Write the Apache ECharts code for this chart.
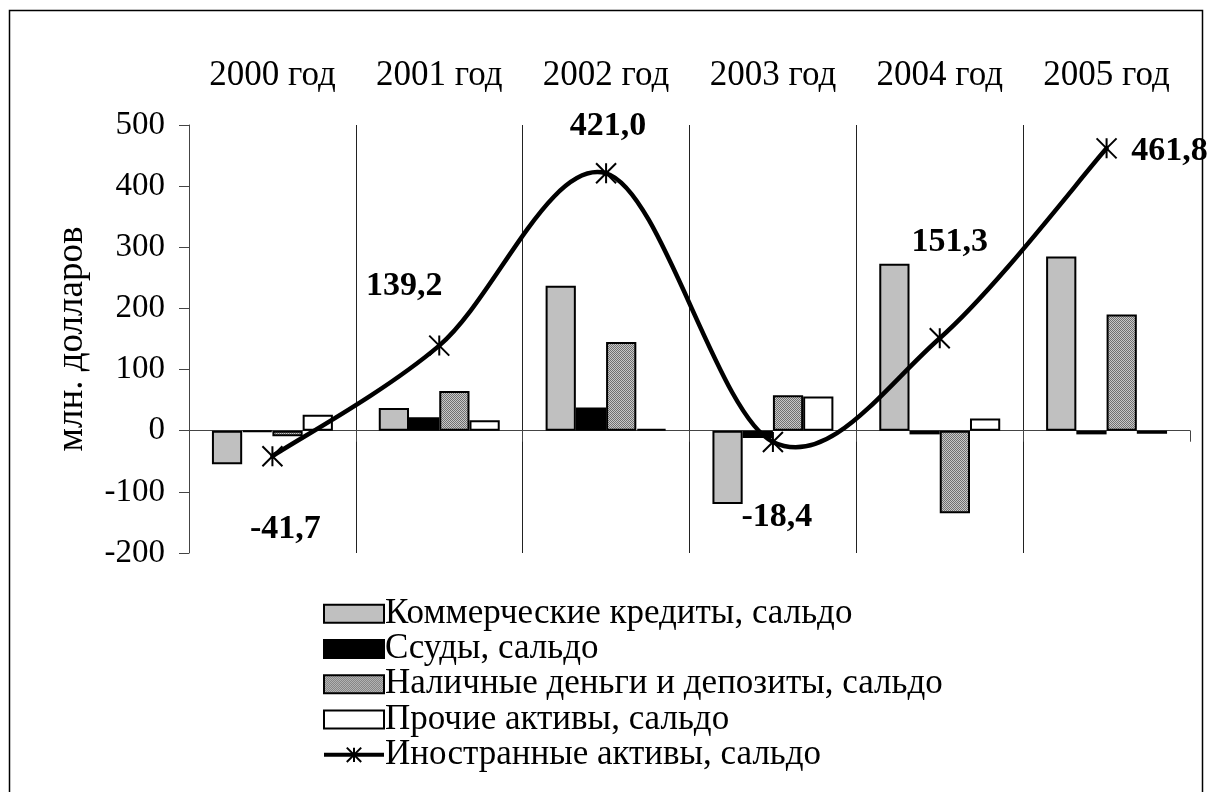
<!DOCTYPE html>
<html>
<head>
<meta charset="utf-8">
<script src="https://cdn.jsdelivr.net/npm/echarts@6/dist/echarts.min.js"></script>
<style>
html,body{margin:0;padding:0;background:#fff;}
#chart{width:1211px;height:792px;}
</style>
</head>
<body>
<div id="chart"></div>
<script>
// ---- data ----
const categories = ['2000 год', '2001 год', '2002 год', '2003 год', '2004 год', '2005 год'];
const commercialCredits = [-55, 37, 237, -120, 273, 285];
const loans = [-2, 22, 38, -12, -6, -6];
const cashDeposits = [-9, 65, 145, 58, -135, 190];
const otherAssets = [26, 17, 3, 56, 20, -5];
const foreignAssets = [-41.7, 139.2, 421.0, -18.4, 151.3, 461.8];
const seriesNames = [
  'Коммерческие кредиты, сальдо',
  'Ссуды, сальдо',
  'Наличные деньги и депозиты, сальдо',
  'Прочие активы, сальдо',
  'Иностранные активы, сальдо'
];
const yTicks = { min: -200, max: 500, interval: 100 };
// label offsets (style) for the foreign assets labels
const labelOffsets = [[13, 73], [-35, -59], [2, -47], [4, 75], [10, -96], [63, 3]];

// ---- pattern for the dotted bar ----
function makePattern() {
  const c = document.createElement('canvas');
  c.width = 4; c.height = 4;
  const ctx = c.getContext('2d');
  ctx.fillStyle = '#c8c8c8';
  ctx.fillRect(0, 0, 4, 4);
  ctx.fillStyle = '#707070';
  ctx.fillRect(0, 0, 1, 1); ctx.fillRect(2, 0, 1, 1);
  ctx.fillRect(1, 1, 1, 1); ctx.fillRect(3, 1, 1, 1);
  ctx.fillRect(0, 2, 1, 1); ctx.fillRect(2, 2, 1, 1);
  ctx.fillRect(1, 3, 1, 1); ctx.fillRect(3, 3, 1, 1);
  return c;
}
const dotted = { image: makePattern(), repeat: 'repeat' };

const FONT = 'Liberation Serif';
const chart = echarts.init(document.getElementById('chart'), null, { renderer: 'canvas' });

function barSeries(name, data, fill) {
  return {
    name: name,
    type: 'bar',
    xAxisIndex: 1,
    data: data,
    barGap: '0%',
    barCategoryGap: '27.5%',
    itemStyle: { color: fill, borderColor: '#000', borderWidth: 2 },
    emphasis: { disabled: true },
    z: 2
  };
}

// Catmull-Rom style smoothed segment (as in spreadsheet smoothed lines),
// computed from the data through the axis scales.
function renderCurveSegment(params, api) {
  const i = params.dataIndex;
  const n = foreignAssets.length;
  if (i >= n - 1) return null;
  const pt = k => {
    const kk = Math.max(0, Math.min(n - 1, k));
    return api.coord([kk, foreignAssets[kk]]);
  };
  const p0 = pt(i - 1), p1 = pt(i), p2 = pt(i + 1), p3 = pt(i + 2);
  const t = 1 / 6;
  return {
    type: 'bezierCurve',
    shape: {
      x1: p1[0], y1: p1[1],
      cpx1: p1[0] + (p2[0] - p0[0]) * t, cpy1: p1[1] + (p2[1] - p0[1]) * t,
      cpx2: p2[0] - (p3[0] - p1[0]) * t, cpy2: p2[1] - (p3[1] - p1[1]) * t,
      x2: p2[0], y2: p2[1]
    },
    style: { stroke: '#000', lineWidth: 4.5, fill: null, lineCap: 'round' },
    silent: true
  };
}

const option = {
  animation: false,
  backgroundColor: '#fff',
  textStyle: { fontFamily: FONT, color: '#000' },
  graphic: [{
    type: 'rect',
    shape: { x: 9.5, y: 10.5, width: 1193, height: 800 },
    style: { fill: 'none', stroke: '#000', lineWidth: 1.5 },
    silent: true, z: 0
  }],
  grid: { left: 189, right: 21, top: 125, bottom: 239, containLabel: false },
  legend: {
    orient: 'vertical',
    left: 322,
    top: 596,
    padding: 0,
    height: 250,
    itemWidth: 60,
    itemHeight: 18,
    itemGap: 0,
    data: [
      { name: seriesNames[0], icon: 'rect' },
      { name: seriesNames[1], icon: 'rect' },
      { name: seriesNames[2], icon: 'rect' },
      { name: seriesNames[3], icon: 'rect' },
      { name: seriesNames[4], lineStyle: { width: 4, opacity: 1, color: '#000' } }
    ],
    textStyle: { fontFamily: FONT, fontSize: 35, lineHeight: 35.3, color: '#000', padding: [0, 0, 0, -4] },
    selectedMode: false
  },
  xAxis: [{
    type: 'category',
    data: categories,
    position: 'top',
    boundaryGap: true,
    axisLine: { show: false, onZero: false },
    axisTick: { show: false },
    axisLabel: { fontFamily: FONT, fontSize: 35, color: '#000', margin: 32 },
    splitLine: { show: true, showMinLine: false, showMaxLine: false, lineStyle: { color: '#222', width: 1 } }
  }, {
    type: 'category',
    data: categories,
    position: 'bottom',
    boundaryGap: true,
    axisLine: { show: true, onZero: true, lineStyle: { color: '#444', width: 1 } },
    axisTick: { show: true, length: 11, inside: false, lineStyle: { color: '#444' } },
    axisLabel: { show: false },
    splitLine: { show: false }
  }],
  yAxis: {
    type: 'value',
    min: yTicks.min,
    max: yTicks.max,
    interval: yTicks.interval,
    name: 'млн. долларов',
    nameLocation: 'middle',
    nameGap: 98,
    nameRotate: 90,
    nameTextStyle: { fontFamily: FONT, fontSize: 37, color: '#000' },
    axisLine: { show: true, lineStyle: { color: '#444', width: 1 } },
    axisTick: { show: true, length: 10, lineStyle: { color: '#444' } },
    axisLabel: { fontFamily: FONT, fontSize: 33, color: '#000', margin: 24 },
    splitLine: { show: false }
  },
  series: [
    barSeries(seriesNames[0], commercialCredits, '#c0c0c0'),
    barSeries(seriesNames[1], loans, '#000'),
    barSeries(seriesNames[2], cashDeposits, dotted),
    barSeries(seriesNames[3], otherAssets, '#fff'),
    {
      name: 'curve',
      type: 'custom',
      xAxisIndex: 1,
      data: foreignAssets.map((v, i) => [i, v]),
      renderItem: renderCurveSegment,
      z: 4,
      silent: true
    },
    {
      name: seriesNames[4],
      type: 'line',
      xAxisIndex: 1,
      data: foreignAssets.map((v, i) => ({
        value: v,
        label: { offset: labelOffsets[i] }
      })),
      symbol: 'path://M0,0L10,10M10,0L0,10M5,0L5,10',
      symbolSize: 20,
      showAllSymbol: true,
      lineStyle: { color: '#000', width: 4.5, opacity: 0 },
      itemStyle: { color: '#000', borderColor: '#000', borderWidth: 2 },
      label: {
        show: true,
        position: 'inside',
        fontFamily: FONT,
        fontSize: 34,
        fontWeight: 'bold',
        color: '#000',
        formatter: p => p.value.toFixed(1).replace('.', ',')
      },
      emphasis: { disabled: true },
      z: 5
    }
  ]
};
chart.setOption(option);
</script>
</body>
</html>
